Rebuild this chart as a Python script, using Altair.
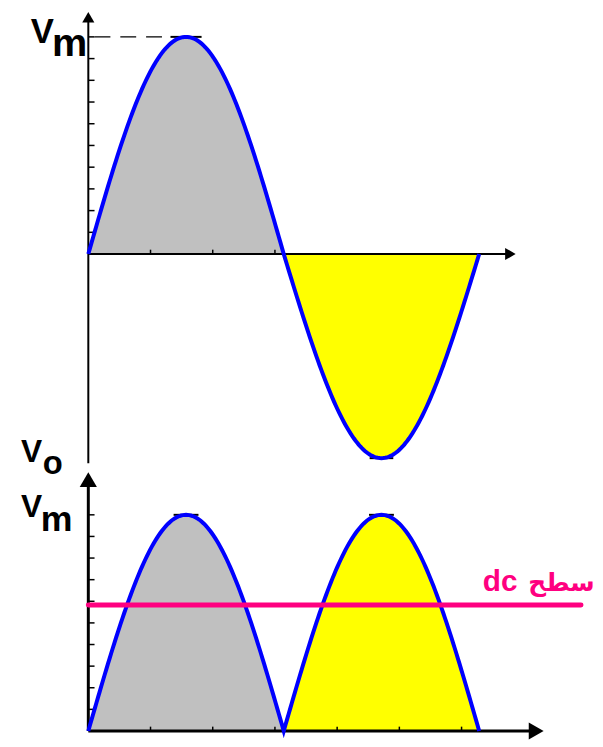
import numpy as np
import pandas as pd
import altair as alt

# ---------------- data ----------------
# x in radians, y in units of Vm
x_domain = [-1.291, 8.145]
top_y_domain = [-0.9726, 1.1187]
bot_y_domain = [-0.0229, 1.2294]

top_pos_amp = 1.0      # positive half peak (Vm)
top_neg_amp = 0.94     # negative half trough depth
bot_amp = 1.0          # rectified peaks
dc_level = 0.583       # "dc" level in Vm
dc_x = [0.0, 7.92]

y_ticks = [0.1, 0.2, 0.3, 0.4, 0.5, 0.6, 0.7, 0.8, 0.9, 1.0]
top_x_ticks = [1, 2, 3]
bot_x_ticks = [1, 2, 3, 4, 5, 6]

# axis extents
top_yaxis = [-0.963, 1.09]     # y-axis line of the upper plot
top_xaxis_end = 6.785
bot_yaxis_end = 1.163
bot_xaxis_end = 7.2

# labels
top_lab_text = ["V", "m", "V", "o"]
top_lab_x = [-0.924, -0.585, -1.084, -0.733]
top_lab_y = [0.973, 0.913, -0.959, -1.014]
top_lab_size = [35, 40, 32, 33]

bot_lab_text = ["V", "m"]
bot_lab_x = [-1.084, -0.765]
bot_lab_y = [0.991, 0.927]
bot_lab_size = [32, 36]

dc_word = "dc"
dc_word_pos = [6.34, 0.647]
dc_arabic = "سطح"
dc_arabic_pos = [8.14, 0.647]

GRAY = "#C0C0C0"
YELLOW = "#FFFF00"
BLUE = "#0000FF"
PINK = "#FF0080"

# ---------------- helpers ----------------
def X(f="x", dom=x_domain):
    return alt.X(f"{f}:Q", scale=alt.Scale(domain=dom, nice=False, zero=False), axis=None)

def Y(f, dom):
    return alt.Y(f"{f}:Q", scale=alt.Scale(domain=dom, nice=False, zero=False), axis=None)

def panel(layers, height):
    return alt.layer(*layers).properties(width=592, height=height)

# ---------------- top panel ----------------
t1 = np.linspace(0, np.pi, 121)
t2 = np.linspace(np.pi, 2 * np.pi, 121)
top_pos = pd.DataFrame({"x": t1, "y": top_pos_amp * np.sin(t1), "y0": 0.0})
top_neg = pd.DataFrame({"x": t2, "y": top_neg_amp * np.sin(t2), "y0": 0.0})
top_curve = pd.concat([top_pos, top_neg[1:]], ignore_index=True)

D = top_y_domain
area_pos = alt.Chart(top_pos).mark_area(color=GRAY, opacity=1).encode(
    x=X(), y=Y("y", D), y2="y0:Q")
area_neg = alt.Chart(top_neg).mark_area(color=YELLOW, opacity=1).encode(
    x=X(), y=Y("y", D), y2="y0:Q")

top_axes = pd.DataFrame({
    "x": [0.0, 0.0], "x2": [0.0, top_xaxis_end],
    "y": [top_yaxis[0], 0.0], "y2": [top_yaxis[1], 0.0]})
top_axis_rules = alt.Chart(top_axes).mark_rule(color="black", strokeWidth=2).encode(
    x=X(), x2="x2:Q", y=Y("y", D), y2="y2:Q")

top_yt = pd.DataFrame({"x": 0.0, "x2": 0.1, "y": y_ticks})
top_ytick = alt.Chart(top_yt).mark_rule(color="black", strokeWidth=1.5).encode(
    x=X(), x2="x2:Q", y=Y("y", D))
top_xt = pd.DataFrame({"x": top_x_ticks, "y": 0.0, "y2": 0.02})
top_xtick = alt.Chart(top_xt).mark_rule(color="black", strokeWidth=1.5).encode(
    x=X(), y=Y("y", D), y2="y2:Q")

top_arrows = pd.DataFrame({"x": [0.0, top_xaxis_end], "y": [top_yaxis[1], 0.0],
                           "shape": ["triangle-up", "triangle-right"]})
top_arrow = alt.Chart(top_arrows).mark_point(filled=True, color="black", opacity=1, size=150).encode(
    x=X(), y=Y("y", D), shape=alt.Shape("shape:N", scale=None))

dash = pd.DataFrame({"x": [0.1], "x2": [1.33], "y": [top_pos_amp]})
dash_rule = alt.Chart(dash).mark_rule(color="black", strokeWidth=1.5, strokeDash=[16, 10]).encode(
    x=X(), x2="x2:Q", y=Y("y", D))

top_seg = pd.DataFrame({"x": [np.pi / 2 - 0.25, 3 * np.pi / 2 - 0.19],
                        "x2": [np.pi / 2 + 0.25, 3 * np.pi / 2 + 0.19],
                        "y": [top_pos_amp, -top_neg_amp]})
top_seg_rule = alt.Chart(top_seg).mark_rule(color="black", strokeWidth=2).encode(
    x=X(), x2="x2:Q", y=Y("y", D))

top_line = alt.Chart(top_curve).mark_line(color=BLUE, strokeWidth=4).encode(
    x=X(), y=Y("y", D), order="x:Q")

top_labels = pd.DataFrame({"t": top_lab_text, "x": top_lab_x, "y": top_lab_y, "s": top_lab_size})
top_lab = alt.Chart(top_labels).mark_text(
    align="left", baseline="alphabetic", font="Liberation Sans", fontWeight="bold", color="black"
).encode(x=X(), y=Y("y", D), text="t:N", size=alt.Size("s:Q", scale=None))

top = panel([area_pos, area_neg, top_axis_rules, top_ytick, top_xtick, top_arrow,
             top_seg_rule, dash_rule, top_line, top_lab], 458)

# ---------------- bottom panel ----------------
B = bot_y_domain
b1 = pd.DataFrame({"x": t1, "y": bot_amp * np.abs(np.sin(t1)), "y0": 0.0})
b2 = pd.DataFrame({"x": t2, "y": bot_amp * np.abs(np.sin(t2)), "y0": 0.0})
bot_curve = pd.concat([b1, b2[1:]], ignore_index=True)

b_area1 = alt.Chart(b1).mark_area(color=GRAY, opacity=1).encode(
    x=X(), y=Y("y", B), y2="y0:Q")
b_area2 = alt.Chart(b2).mark_area(color=YELLOW, opacity=1).encode(
    x=X(), y=Y("y", B), y2="y0:Q")

bot_axes = pd.DataFrame({
    "x": [0.0, 0.0], "x2": [0.0, bot_xaxis_end],
    "y": [0.0, 0.0], "y2": [bot_yaxis_end, 0.0]})
bot_axis_rules = alt.Chart(bot_axes).mark_rule(color="black", strokeWidth=3).encode(
    x=X(), x2="x2:Q", y=Y("y", B), y2="y2:Q")

bot_yt = pd.DataFrame({"x": 0.0, "x2": 0.1, "y": y_ticks})
bot_ytick = alt.Chart(bot_yt).mark_rule(color="black", strokeWidth=1.5).encode(
    x=X(), x2="x2:Q", y=Y("y", B))
bot_xt = pd.DataFrame({"x": bot_x_ticks, "y": 0.0, "y2": 0.02})
bot_xtick = alt.Chart(bot_xt).mark_rule(color="black", strokeWidth=1.5).encode(
    x=X(), y=Y("y", B), y2="y2:Q")

bot_arrows = pd.DataFrame({"x": [0.0, bot_xaxis_end], "y": [bot_yaxis_end, 0.0],
                           "shape": ["triangle-up", "triangle-right"]})
bot_arrow = alt.Chart(bot_arrows).mark_point(filled=True, color="black", opacity=1, size=300).encode(
    x=X(), y=Y("y", B), shape=alt.Shape("shape:N", scale=None))

bot_seg = pd.DataFrame({"x": [np.pi / 2 - 0.2, 3 * np.pi / 2 - 0.2],
                        "x2": [np.pi / 2 + 0.2, 3 * np.pi / 2 + 0.2],
                        "y": [bot_amp, bot_amp]})
bot_seg_rule = alt.Chart(bot_seg).mark_rule(color="black", strokeWidth=2).encode(
    x=X(), x2="x2:Q", y=Y("y", B))

bot_line = alt.Chart(bot_curve).mark_line(color=BLUE, strokeWidth=4).encode(
    x=X(), y=Y("y", B), order="x:Q")

dc_df = pd.DataFrame({"x": [dc_x[0]], "x2": [dc_x[1]], "y": [dc_level]})
dc_rule = alt.Chart(dc_df).mark_rule(color=PINK, strokeWidth=5, strokeCap="round").encode(
    x=X(), x2="x2:Q", y=Y("y", B))

dc_word_df = pd.DataFrame({"t": [dc_word], "x": [dc_word_pos[0]], "y": [dc_word_pos[1]]})
dc_word_lab = alt.Chart(dc_word_df).mark_text(
    align="left", baseline="alphabetic", font="Liberation Sans",
    fontWeight="bold", fontSize=30, color=PINK
).encode(x=X(), y=Y("y", B), text="t:N")

dc_ar_df = pd.DataFrame({"t": [dc_arabic], "x": [dc_arabic_pos[0]], "y": [dc_arabic_pos[1]]})
dc_ar_lab = alt.Chart(dc_ar_df).mark_text(
    align="right", baseline="alphabetic", font="DejaVu Sans",
    fontWeight="bold", fontSize=25, color=PINK
).encode(x=X(), y=Y("y", B), text="t:N")

bot_labels = pd.DataFrame({"t": bot_lab_text, "x": bot_lab_x, "y": bot_lab_y, "s": bot_lab_size})
bot_lab = alt.Chart(bot_labels).mark_text(
    align="left", baseline="alphabetic", font="Liberation Sans", fontWeight="bold", color="black"
).encode(x=X(), y=Y("y", B), text="t:N", size=alt.Size("s:Q", scale=None))

bottom = panel([b_area1, b_area2, bot_axis_rules, bot_ytick, bot_xtick, bot_arrow,
                bot_seg_rule, bot_line, dc_rule, dc_word_lab, dc_ar_lab, bot_lab], 273)

chart = alt.vconcat(top, bottom, spacing=0, bounds="flush").properties(
    padding=0, background="white"
).configure_view(stroke=None)

chart.save("out.html", embed_options={"renderer": "svg", "actions": False})
